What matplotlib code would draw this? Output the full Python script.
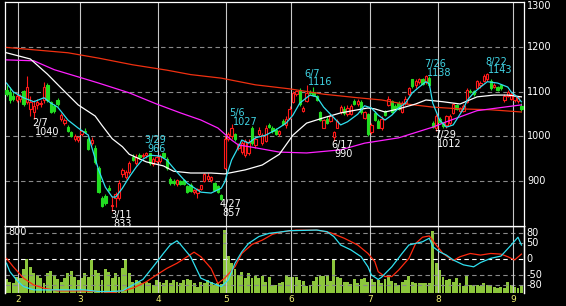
import numpy as np
import matplotlib
matplotlib.use('Agg')
import matplotlib.pyplot as plt
from matplotlib.patches import Rectangle
from matplotlib.transforms import blended_transform_factory

# ---- daily candles (day index 0..151) ----
opens = [1105, 1100, 1092, 1082, 1085, 1102, 1078, 1062, 1055, 1070,
         1072, 1082, 1116, 1078, 1068, 1082, 1040, 1030, 1022, 1010,
         995, 992, 1005, 1012, 995, 985, 975, 930, 862, 866,
         885, 845, 862, 862, 915, 910, 920, 955, 940, 958,
         956, 958, 962, 938, 945, 945, 962, 950, 905, 900,
         893, 900, 902, 888, 890, 875, 872, 882, 900, 905,
         902, 895, 888, 868, 930, 995, 1000, 1005, 975, 965,
         958, 962, 1020, 980, 1005, 985, 990, 1025, 1020, 1015,
         1005, 1035, 1025, 1042, 1078, 1095, 1104, 1058, 1080, 1100,
         1100, 1092, 1055, 1020, 1040, 1035, 998, 1020, 1055, 1062,
         1050, 1050, 1080, 1072, 1078, 1042, 1050, 1010, 1052, 1035,
         1020, 1058, 1070, 1080, 1068, 1075, 1055, 1075, 1095, 1128,
         1115, 1122, 1130, 1122, 1132, 1030, 1020, 1040, 1030, 1025,
         1030, 1052, 1070, 1058, 1058, 1078, 1102, 1102, 1110, 1115,
         1124, 1128, 1125, 1112, 1112, 1115, 1082, 1090, 1085, 1082,
         1080, 1068]
highs = [1115, 1112, 1100, 1098, 1095, 1105, 1136, 1092, 1082, 1085,
         1082, 1122, 1120, 1080, 1072, 1086, 1052, 1042, 1025, 1012,
         1005, 1002, 1015, 1020, 998, 998, 980, 934, 866, 870,
         890, 866, 875, 902, 930, 925, 946, 960, 960, 962,
         962, 966, 964, 955, 958, 960, 966, 955, 910, 905,
         905, 903, 905, 890, 895, 882, 885, 892, 918, 918,
         912, 898, 892, 870, 1000, 1010, 1027, 1008, 985, 990,
         995, 995, 1024, 998, 1022, 1008, 1025, 1030, 1024, 1018,
         1015, 1040, 1045, 1068, 1102, 1105, 1108, 1068, 1116, 1105,
         1112, 1094, 1058, 1040, 1045, 1050, 1012, 1040, 1070, 1068,
         1070, 1072, 1085, 1085, 1082, 1058, 1052, 1030, 1058, 1040,
         1045, 1060, 1090, 1082, 1072, 1080, 1080, 1090, 1112, 1130,
         1128, 1132, 1132, 1138, 1136, 1035, 1050, 1043, 1033, 1048,
         1050, 1075, 1072, 1066, 1072, 1108, 1106, 1105, 1127, 1125,
         1140, 1143, 1128, 1120, 1114, 1118, 1095, 1105, 1100, 1095,
         1092, 1075]
lows = [1090, 1075, 1080, 1078, 1078, 1068, 1072, 1045, 1040, 1062,
        1066, 1075, 1078, 1052, 1052, 1068, 1035, 1025, 1010, 998,
        990, 988, 1000, 1008, 970, 980, 938, 872, 842, 846,
        878, 833, 842, 858, 910, 905, 915, 945, 935, 950,
        950, 952, 935, 933, 940, 940, 952, 925, 890, 892,
        888, 890, 892, 874, 875, 870, 862, 880, 898, 900,
        898, 878, 872, 857, 928, 990, 995, 990, 970, 960,
        955, 958, 980, 975, 1002, 980, 988, 1018, 1008, 1003,
        1002, 1025, 1020, 1040, 1075, 1090, 1068, 1055, 1078, 1095,
        1090, 1080, 1035, 1018, 1028, 1032, 990, 1018, 1050, 1048,
        1045, 1048, 1070, 1068, 1050, 1040, 1000, 1005, 1035, 1018,
        1015, 1045, 1068, 1052, 1058, 1060, 1052, 1070, 1090, 1110,
        1110, 1118, 1115, 1118, 1112, 1018, 1012, 1030, 1020, 1020,
        1026, 1050, 1060, 1055, 1055, 1075, 1098, 1092, 1108, 1110,
        1122, 1125, 1105, 1108, 1102, 1104, 1078, 1088, 1082, 1078,
        1075, 1058]
closes = [1095, 1082, 1085, 1092, 1090, 1072, 1112, 1078, 1068, 1078,
          1076, 1112, 1082, 1056, 1058, 1072, 1048, 1038, 1012, 1000,
          1002, 998, 1012, 1010, 972, 992, 942, 875, 845, 850,
          880, 845, 870, 895, 925, 920, 940, 948, 955, 955,
          958, 962, 940, 950, 955, 956, 955, 930, 895, 896,
          902, 893, 894, 876, 878, 880, 882, 890, 915, 912,
          908, 880, 875, 860, 995, 1005, 1018, 995, 982, 985,
          990, 988, 985, 995, 1015, 1003, 1020, 1022, 1012, 1005,
          1012, 1028, 1040, 1062, 1098, 1102, 1072, 1065, 1098, 1097,
          1093, 1082, 1038, 1037, 1030, 1045, 1010, 1035, 1066, 1052,
          1065, 1068, 1072, 1080, 1055, 1055, 1005, 1025, 1038, 1020,
          1040, 1048, 1085, 1055, 1060, 1062, 1075, 1085, 1108, 1114,
          1125, 1128, 1118, 1135, 1115, 1022, 1046, 1032, 1024, 1045,
          1046, 1072, 1062, 1064, 1068, 1104, 1100, 1095, 1124, 1120,
          1136, 1140, 1108, 1115, 1105, 1108, 1090, 1100, 1095, 1090,
          1088, 1062]

volume = [187, 150, 133, 213, 200, 320, 453, 351, 267, 240,
          200, 133, 267, 293, 227, 187, 150, 200, 267, 293,
          217, 173, 200, 271, 217, 440, 307, 271, 173, 320,
          284, 200, 267, 217, 333, 453, 267, 150, 173, 150,
          133, 150, 133, 107, 173, 150, 133, 173, 138, 173,
          150, 133, 173, 187, 173, 133, 84, 150, 133, 173,
          150, 107, 138, 120, 840, 493, 400, 320, 240, 284,
          200, 267, 200, 227, 200, 227, 150, 217, 107, 107,
          138, 150, 240, 209, 217, 217, 173, 164, 93, 107,
          164, 217, 227, 227, 240, 160, 449, 217, 196, 151,
          151, 120, 182, 138, 182, 196, 151, 182, 151, 173,
          129, 182, 227, 164, 138, 107, 151, 173, 227, 151,
          129, 138, 138, 129, 138, 831, 396, 307, 217, 173,
          182, 151, 196, 129, 93, 240, 107, 93, 107, 93,
          129, 107, 93, 84, 62, 84, 62, 151, 107, 84,
          62, 93]

# ---- moving averages at sample days ----
ma_short_day = [0, 2, 5, 8, 11, 13, 15, 18, 21, 24, 25, 27, 29, 31, 32, 34, 36, 38, 40, 42,
                45, 47, 50, 53, 57, 60, 63, 64, 66, 68, 69, 71, 73, 76, 79, 82, 84, 86, 89, 91,
                93, 96, 98, 100, 103, 105, 107, 109, 111, 113, 115, 117, 119, 121, 123, 124, 125, 127, 129, 131,
                134, 135, 137, 139, 141, 144, 147, 148, 150, 151]
ma_short_val = [1120, 1100, 1087, 1078, 1087, 1075, 1066, 1037, 1019, 1003, 976, 925, 886, 864, 864, 884, 909, 931, 949, 958,
                956, 947, 920, 895, 875, 873, 884, 898, 947, 976, 992, 985, 997, 1003, 1015, 1030, 1048, 1075, 1093, 1089,
                1066, 1042, 1026, 1033, 1050, 1069, 1064, 1048, 1037, 1048, 1064, 1075, 1098, 1111, 1123, 1118, 1075, 1037, 1021, 1026,
                1062, 1080, 1098, 1111, 1123, 1120, 1111, 1100, 1087, 1078]

ma_mid_day = [0, 7, 12, 16, 21, 26, 28, 31, 34, 36, 41, 46, 49, 54, 60, 64, 70, 75, 80, 84,
              88, 93, 98, 103, 106, 108, 111, 115, 120, 123, 128, 133, 138, 143, 147, 151]
ma_mid_val = [1188, 1174, 1140, 1109, 1071, 1046, 1025, 995, 977, 960, 943, 934, 922, 918, 918, 916, 925, 936, 960, 1003,
              1030, 1042, 1053, 1060, 1064, 1062, 1055, 1062, 1073, 1082, 1078, 1073, 1089, 1093, 1093, 1089]

ma_long_day = [0, 8, 14, 24, 27, 36, 44, 51, 54, 57, 62, 66, 68, 72, 80, 88, 98, 105, 115, 125,
               129, 138, 148, 151]
ma_long_val = [1172, 1170, 1150, 1127, 1120, 1098, 1073, 1053, 1045, 1037, 1019, 992, 981, 976, 965, 963, 970, 985, 997, 1021,
               1033, 1058, 1068, 1071]

ma_year_day = [0, 18, 27, 37, 47, 54, 63, 73, 83, 93, 103, 110, 115, 125, 133, 142, 151]
ma_year_val = [1200, 1188, 1176, 1161, 1149, 1139, 1131, 1116, 1107, 1095, 1087, 1082, 1075, 1066, 1062, 1060, 1055]

# ---- oscillator (lower panel) ----
osc_fast_day = [0, 1, 3, 5, 8, 13, 18, 23, 27, 31, 34, 37, 40, 43, 46, 48, 50, 51, 54, 57,
                60, 63, 65, 67, 69, 71, 74, 77, 81, 83, 91, 94, 96, 98, 101, 104, 106, 107, 109, 110,
                113, 116, 118, 120, 122, 124, 125, 127, 129, 131, 134, 137, 139, 142, 145, 148, 150, 151]
osc_fast_val = [-13, -39, -65, -85, -95, -95, -95, -95, -100, -100, -98, -80, -63, -24, 17, 43, 56, 45, 7, -59,
                -73, -85, -65, -13, 22, 48, 69, 79, 84, 87, 89, 84, 69, 43, 28, 7, -24, -49, -63, -56,
                -24, 17, 43, 48, 53, 64, 38, 22, 12, -3, -18, -24, -11, 2, 9, 43, 67, 43]
osc_slow_day = [0, 2, 5, 8, 11, 15, 22, 27, 31, 34, 37, 41, 44, 47, 50, 53, 55, 57, 60, 62,
                64, 67, 69, 72, 75, 78, 81, 85, 91, 95, 99, 103, 106, 108, 109, 111, 113, 115, 118, 120,
                122, 124, 126, 128, 130, 131, 133, 136, 139, 142, 145, 147, 149, 151]
osc_slow_val = [2, -24, -59, -80, -90, -98, -98, -100, -103, -98, -90, -70, -49, -29, -13, 7, 21, 7, -29, -75,
                -59, -24, 17, 45, 58, 76, 84, 89, 89, 81, 64, 43, 17, -8, -39, -54, -54, -34, 2, 48,
                67, 71, 43, 17, 2, -5, 7, 17, 12, 17, 15, 7, -3, 15]

# month starts (day index) and labels
month_start = [4, 22, 45, 65, 84, 107, 127, 149]
month_label = ['2', '3', '4', '5', '6', '7', '8', '9']

# peaks / troughs marked on the chart
peak_day = [41, 66, 88, 123, 141]
peak_text = ['3/29', '5/6', '6/7', '7/26', '8/22']
trough_day = [8, 31, 63, 96, 126]
trough_text = ['2/7', '3/11', '4/27', '6/17', '7/29']

price_ticks = [900, 1000, 1100, 1200, 1300]
osc_ticks = [80, 50, 0, -50, -80]

# ---- figure ----
W, H = 566, 306
fig = plt.figure(figsize=(W / 100, H / 100), dpi=100, facecolor='black')
ax = fig.add_axes([5 / W, 1 - 226 / H, 519 / W, 224 / H])
axv = fig.add_axes([5 / W, 1 - 293 / H, 519 / W, 67 / H])
axo = axv.twinx()
ax.set_zorder(3)
axv.set_zorder(1)
axo.set_zorder(2)

RED = '#ff1a1a'
GREEN = '#22dd22'
FS = 7
xlim = (-0.44, 151.76)

for a in (ax, axv, axo):
    a.set_xlim(*xlim)
    a.set_xticks([])
    a.set_yticks([])
    for s in a.spines.values():
        s.set_color('white')
        s.set_linewidth(0.9)
for a in (axv, axo):
    a.spines['bottom'].set_visible(False)
ax.set_facecolor('black')
axv.set_facecolor('black')
axo.patch.set_visible(False)

ax.set_ylim(799, 1302)
axv.set_ylim(0, 893)
axo.set_ylim(-104.6, 101.5)

dash = (0, (4, 3))
for v in price_ticks[:-1]:
    ax.axhline(v, color='#8a8a8a', lw=0.8, ls=dash, zorder=1)
for v in osc_ticks:
    axo.axhline(v, color='white' if v == 0 else '#8a8a8a', lw=0.8, ls=dash, zorder=1)

for m in month_start:
    ax.axvline(m - 0.5, color='#c8c8c8', lw=0.8, zorder=1)
    axo.axvline(m - 0.5, color='#c8c8c8', lw=0.8, zorder=1)

# candles
for i, (o, h, l, c) in enumerate(zip(opens, highs, lows, closes)):
    up = c >= o
    col = RED if up else GREEN
    ax.vlines(i, l, h, color=col, lw=0.8, zorder=3)
    lo = min(o, c)
    hh = max(abs(c - o), 1.5)
    ax.add_patch(Rectangle((i - 0.34, lo), 0.68, hh, facecolor='black' if up else col,
                           edgecolor=col, lw=0.8, zorder=4))

ax.plot(ma_year_day, ma_year_val, color='#f03010', lw=0.9, zorder=5)
ax.plot(ma_long_day, ma_long_val, color='#ff20ff', lw=0.9, zorder=5)
ax.plot(ma_mid_day, ma_mid_val, color='white', lw=0.9, zorder=5)
ax.plot(ma_short_day, ma_short_val, color='#30e0f0', lw=0.9, zorder=6)

# price labels on right (top one nudged so it stays inside the picture)
tr = blended_transform_factory(ax.transAxes, ax.transData)
for v in price_ticks:
    dy = -2.2 if v == 1300 else 0
    ax.annotate(str(v), (1.006, v), xycoords=tr, xytext=(0, dy), textcoords='offset points',
                ha='left', va='center', color='white', fontsize=FS, annotation_clip=False)
tro = blended_transform_factory(axo.transAxes, axo.transData)
for v in osc_ticks:
    axo.text(1.004, v, str(v), transform=tro, ha='left', va='center', color='white',
             fontsize=FS, clip_on=False)

# peak / trough markers
pt = 0.72
for d, t in zip(peak_day, peak_text):
    v = highs[d]
    ax.annotate(t, (d, v), xytext=(-2 * pt, 11.2 * pt), textcoords='offset points',
                ha='left', va='center', color='#40d4e4', fontsize=FS, annotation_clip=False, zorder=8)
    ax.annotate(str(v), (d, v), xytext=(1 * pt, 2.4 * pt), textcoords='offset points',
                ha='left', va='center', color='#40d4e4', fontsize=FS, annotation_clip=False, zorder=8)
for d, t in zip(trough_day, trough_text):
    v = lows[d]
    ax.annotate(t, (d, v), xytext=(-2 * pt, -4.2 * pt), textcoords='offset points',
                ha='left', va='center', color='white', fontsize=FS, annotation_clip=False, zorder=8)
    ax.annotate(str(v), (d, v), xytext=(1 * pt, -13 * pt), textcoords='offset points',
                ha='left', va='center', color='white', fontsize=FS, annotation_clip=False, zorder=8)

# volume and oscillator
axv.bar(range(len(volume)), volume, width=0.86, color='#8cc63c', zorder=2)
axo.plot(osc_slow_day, osc_slow_val, color='#ff2a10', lw=0.9, zorder=4)
axo.plot(osc_fast_day, osc_fast_val, color='#30e0f0', lw=0.9, zorder=5)
axv.text(3 / 519, (293 - 232) / 67, '800', transform=axv.transAxes, ha='left', va='center',
         color='white', fontsize=FS, zorder=6)

trm = blended_transform_factory(axv.transData, axv.transAxes)
for m, lab in zip(month_start, month_label):
    axv.text(m - 0.5, -0.1, lab, transform=trm, ha='center', va='center',
             color='#f0f070', fontsize=6.5, clip_on=False)

fig.savefig('out.png', dpi=100, facecolor='black')
